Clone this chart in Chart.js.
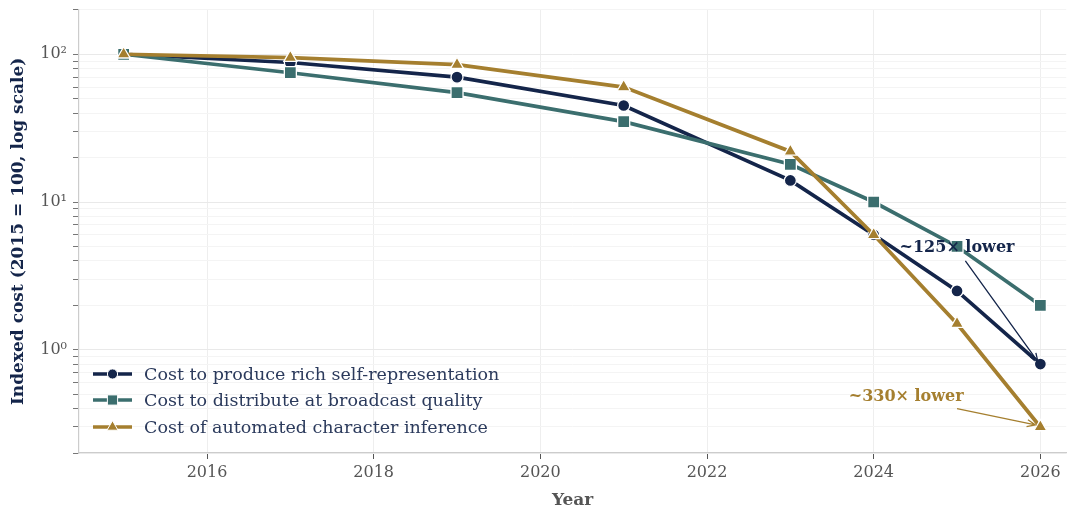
<!DOCTYPE html>
<html>
<head>
<meta charset="utf-8">
<script src="https://cdn.jsdelivr.net/npm/chart.js@4/dist/chart.umd.min.js"></script>
<style>
  html, body { margin: 0; padding: 0; background: #fff; }
  #wrap { width: 1076px; height: 508px; }
</style>
</head>
<body>
<div id="wrap"><canvas id="costChart"></canvas></div>
<script>
// years on the x axis
const years = [2015, 2017, 2019, 2021, 2023, 2024, 2025, 2026];

// indexed cost, 2015 = 100
const produceCost = [100, 88, 70, 45, 14, 6, 2.5, 0.8];
const distributeCost = [100, 75, 55, 35, 18, 10, 5, 2];
const inferenceCost = [100, 95, 85, 60, 22, 6, 1.5, 0.3];

const seriesLabels = [
    'Cost to produce rich self-representation',
    'Cost to distribute at broadcast quality',
    'Cost of automated character inference'
];

const xTicks = [2016, 2018, 2020, 2022, 2024, 2026];
const yTicks = [0.2, 0.3, 0.4, 0.5, 0.6, 0.7, 0.8, 0.9, 1, 2, 3, 4, 5, 6, 7, 8, 9, 10,
    20, 30, 40, 50, 60, 70, 80, 90, 100, 200];
const yLabels = { 1: '10⁰', 10: '10¹', 100: '10²' };

// callouts: text, where the text sits, where the arrow starts and ends
const callouts = [
    { text: '~125× lower', at: [2025.0, 4.9], from: [2025.1, 4.0], to: [2025.97, 0.83], color: '#14254a' },
    { text: '~330× lower', at: [2024.39, 0.48], from: [2025.0, 0.40], to: [2025.94, 0.31], color: '#a57f2f' }
];

const NAVY = '#14254a';
const TEAL = '#3b6e6e';
const GOLD = '#a57f2f';
const SERIF = "'DejaVu Serif', serif";

const toPoints = vals => vals.map((v, i) => ({ x: years[i], y: v }));
const isDecade = c => !!(c && c.tick && yLabels[c.tick.value]);

// line + marker legend in the lower left
const legendPlugin = {
    id: 'sampleLegend',
    afterDraw(chart) {
        const ctx = chart.ctx;
        const rows = [374, 400, 427];
        ctx.save();
        chart.data.datasets.forEach((ds, i) => {
            const y = rows[i];
            ctx.strokeStyle = ds.borderColor;
            ctx.lineWidth = 3.5;
            ctx.beginPath();
            ctx.moveTo(93, y);
            ctx.lineTo(132, y);
            ctx.stroke();
            ctx.fillStyle = ds.borderColor;
            ctx.strokeStyle = '#ffffff';
            ctx.lineWidth = 1;
            Chart.helpers.drawPoint(ctx, { pointStyle: ds.pointStyle, radius: ds.pointRadius * 0.85, borderWidth: 1 }, 112.5, y);
            ctx.fillStyle = '#2b3a5c';
            ctx.font = '17.5px ' + SERIF;
            ctx.textBaseline = 'middle';
            ctx.textAlign = 'left';
            ctx.fillText(ds.label, 144, y + 1);
        });
        ctx.restore();
    }
};

// "~N× lower" notes with thin arrows
const calloutPlugin = {
    id: 'callouts',
    afterDatasetsDraw(chart) {
        const ctx = chart.ctx;
        const xs = chart.scales.x, ys = chart.scales.y;
        ctx.save();
        callouts.forEach(c => {
            const tx = xs.getPixelForValue(c.at[0]), ty = ys.getPixelForValue(c.at[1]);
            const x0 = xs.getPixelForValue(c.from[0]), y0 = ys.getPixelForValue(c.from[1]);
            const x1 = xs.getPixelForValue(c.to[0]), y1 = ys.getPixelForValue(c.to[1]);
            ctx.strokeStyle = c.color;
            ctx.lineWidth = 1.3;
            ctx.beginPath();
            ctx.moveTo(x0, y0);
            ctx.lineTo(x1, y1);
            const ang = Math.atan2(y1 - y0, x1 - x0);
            const head = 9;
            ctx.moveTo(x1 - head * Math.cos(ang - 0.4), y1 - head * Math.sin(ang - 0.4));
            ctx.lineTo(x1, y1);
            ctx.lineTo(x1 - head * Math.cos(ang + 0.4), y1 - head * Math.sin(ang + 0.4));
            ctx.stroke();
            ctx.fillStyle = c.color;
            ctx.font = 'bold 16px ' + SERIF;
            ctx.textAlign = 'center';
            ctx.textBaseline = 'middle';
            ctx.fillText(c.text, tx, ty);
        });
        ctx.restore();
    }
};

const ctx = document.getElementById('costChart').getContext('2d');

new Chart(ctx, {
    type: 'line',
    data: {
        datasets: [
            {
                label: seriesLabels[0],
                data: toPoints(produceCost),
                borderColor: NAVY,
                backgroundColor: NAVY,
                pointStyle: 'circle',
                pointRadius: 6,
                order: 3
            },
            {
                label: seriesLabels[1],
                data: toPoints(distributeCost),
                borderColor: TEAL,
                backgroundColor: TEAL,
                pointStyle: 'rect',
                pointRadius: 8.5,
                order: 2
            },
            {
                label: seriesLabels[2],
                data: toPoints(inferenceCost),
                borderColor: GOLD,
                backgroundColor: GOLD,
                pointStyle: 'triangle',
                pointRadius: 7.5,
                order: 1
            }
        ]
    },
    options: {
        responsive: true,
        maintainAspectRatio: false,
        animation: false,
        layout: { padding: { top: 3, right: 0, left: 0, bottom: 0 } },
        elements: {
            line: { borderWidth: 3.7, tension: 0 },
            point: { borderColor: '#ffffff', borderWidth: 1.3, hoverRadius: 6 }
        },
        datasets: {
            line: { pointBorderColor: '#ffffff', pointBorderWidth: 1.3 }
        },
        scales: {
            x: {
                type: 'linear',
                min: 2014.464,
                max: 2026.31,
                afterBuildTicks: scale => { scale.ticks = xTicks.map(v => ({ value: v })); },
                afterFit: scale => { scale.height = 55; },
                ticks: {
                    autoSkip: false,
                    maxRotation: 0,
                    padding: 4,
                    color: '#555555',
                    font: { family: SERIF, size: 16 },
                    callback: v => String(v)
                },
                grid: { color: '#eeeeee', lineWidth: 1, tickLength: 6, tickColor: '#555555' },
                border: { display: true, color: '#cccccc', width: 1.2 },
                title: {
                    display: true,
                    text: 'Year',
                    color: '#555555',
                    font: { family: SERIF, size: 17, weight: 'bold' },
                    padding: { top: 0, bottom: -3 }
                }
            },
            y: {
                type: 'logarithmic',
                min: 0.2,
                max: 200,
                afterBuildTicks: scale => { scale.ticks = yTicks.map(v => ({ value: v })); },
                afterFit: scale => {
                    scale.width = 79;
                    scale.paddingTop = 0;
                    scale.paddingBottom = 0;
                },
                ticks: {
                    autoSkip: false,
                    padding: 6,
                    color: '#555555',
                    font: { family: SERIF, size: 16 },
                    callback: v => yLabels[v] || ''
                },
                grid: {
                    color: c => (isDecade(c) ? '#e9e9e9' : '#f4f4f4'),
                    lineWidth: 1,
                    tickLength: 6,
                    tickColor: '#777777'
                },
                border: { display: true, color: '#cccccc', width: 1.2 },
                title: {
                    display: true,
                    text: 'Indexed cost (2015 = 100, log scale)',
                    color: NAVY,
                    font: { family: SERIF, size: 17, weight: 'bold' },
                    padding: { top: 8, bottom: 2 }
                }
            }
        },
        plugins: {
            legend: { display: false },
            tooltip: { enabled: false }
        }
    },
    plugins: [calloutPlugin, legendPlugin]
});
</script>
</body>
</html>
